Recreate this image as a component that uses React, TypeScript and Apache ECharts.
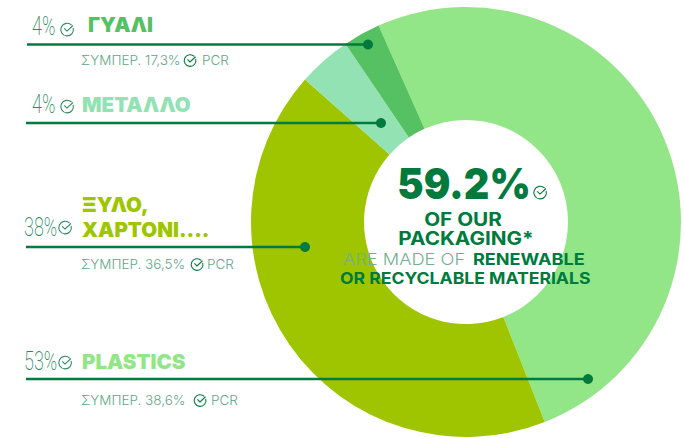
import React, { useEffect, useRef } from "react";
import * as echarts from "echarts";

const categories = ["PLASTICS", "ΞΥΛΟ, ΧΑΡΤΟΝΙ....", "ΜΕΤΑΛΛΟ", "ΓΥΑΛΙ"];
const sliceValues = [50.7, 42.5, 4.0, 2.8];
const sliceColors = ["#93E688", "#9EC500", "#93E2B4", "#55C162"];
const DARK = "#007A3D";
const SOFT = "#5FA888";
const PCT = "#2F8A63";

echarts.graphic.registerShape(
  "chk",
  echarts.graphic.extendPath("M16.6 4.6 A9 9 0 1 0 18.8 8.4 M6 9 L10 13 L18.5 5", {})
);

const centerX = 466;
const centerY = 222;

function txt(x: number, y: number, text: string, size: number, fill: string, weight: any = 400, family = "Inter", align = "left", sx = 1) {
  return {
    type: "text",
    x,
    y,
    z: 20,
    scaleX: sx,
    style: { text, fontSize: size, fill, fontWeight: weight, fontFamily: family, textAlign: align, textVerticalAlign: "middle" },
  };
}
function icon(cx: number, cy: number, size: number, color = DARK, w = 1.1) {
  const s = size / 20;
  return {
    type: "chk",
    x: cx - 10 * s,
    y: cy - 10 * s,
    scaleX: s,
    scaleY: s,
    z: 20,
    style: { fill: "none", stroke: color, lineWidth: w / s },
  };
}
function leader(x1: number, x2: number, y: number) {
  return [
    { type: "line", z: 15, shape: { x1, y1: y, x2, y2: y }, style: { stroke: DARK, lineWidth: 2.5 } },
    { type: "circle", z: 15, shape: { cx: x2, cy: y, r: 5 }, style: { fill: DARK } },
  ];
}
const THIN = "Roboto";
const BOLD = "Inter";
const pct = (x: number, y: number, t: string) => txt(x, y, t, 25, PCT, 200, THIN, "left", 0.72);
const sub = (x: number, y: number, t: string) => txt(x, y, t, 13.5, SOFT, 300, BOLD);
const head = (x: number, y: number, t: string, c: string) => txt(x, y, t, 20.5, c, 900, BOLD);

export default function App() {
  const ref = useRef<HTMLDivElement>(null);
  useEffect(() => {
    const chart = echarts.init(ref.current!, null, { renderer: "svg" });
    chart.setOption({
      animation: false,
      backgroundColor: "#fff",
      series: [
        {
          type: "pie",
          center: [centerX, centerY],
          radius: [102, 215],
          startAngle: 114,
          clockwise: true,
          label: { show: false },
          labelLine: { show: false },
          silent: true,
          data: categories.map((name, i) => ({ name, value: sliceValues[i], itemStyle: { color: sliceColors[i] } })),
        },
      ],
      graphic: [
        ...leader(27, 368, 44.5),
        ...leader(26, 381, 123),
        ...leader(26, 305, 247),
        ...leader(26, 588, 379),

        pct(32, 26, "4%"),
        icon(67, 29, 14, PCT),
        head(88, 24, "ΓΥΑΛΙ", sliceColors[3]),
        sub(81, 60, "ΣΥΜΠΕΡ. 17,3%"),
        icon(190, 60, 13, DARK),
        sub(202, 60, "PCR"),

        pct(32, 104, "4%"),
        icon(67, 106, 14, PCT),
        head(82, 104, "ΜΕΤΑΛΛΟ", sliceColors[2]),

        head(82, 204, "ΞΥΛΟ,", sliceColors[1]),
        head(82, 229, "ΧΑΡΤΟΝΙ....", sliceColors[1]),
        pct(24, 227, "38%"),
        icon(65, 227, 14, PCT),
        sub(81, 264, "ΣΥΜΠΕΡ. 36,5%"),
        icon(197, 264, 13, DARK),
        sub(207, 264, "PCR"),

        pct(24, 361, "53%"),
        icon(65, 362, 14, PCT),
        head(82, 361, "PLASTICS", sliceColors[0]),
        sub(81, 400, "ΣΥΜΠΕΡ. 38,6%"),
        icon(200, 400, 13, DARK),
        sub(211, 400, "PCR"),

        txt(464, 183, "59.2%", 43, DARK, 900, BOLD, "center", 0.92),
        icon(540, 192, 14, DARK),
        txt(463, 219, "OF OUR", 19, DARK, 700, BOLD, "center", 1.09),
        txt(466, 238, "PACKAGING*", 19, DARK, 700, BOLD, "center", 1.09),
        txt(343, 259, "ARE MADE OF", 16, "#6FB08F", 300, BOLD, "left", 1.14),
        txt(473, 259, "RENEWABLE", 16, DARK, 700, BOLD, "left", 1.13),
        txt(340, 278, "OR RECYCLABLE MATERIALS", 16, DARK, 700, BOLD, "left", 1.1),
      ],
    });
    return () => chart.dispose();
  }, []);
  return <div ref={ref} style={{ position: "absolute", left: 0, top: 0, width: 684, height: 438 }} />;
}
